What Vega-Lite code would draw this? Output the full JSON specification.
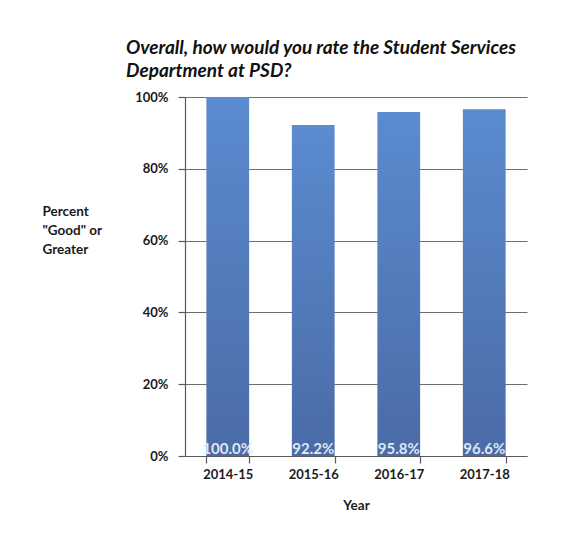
{
  "$schema": "https://vega.github.io/schema/vega-lite/v6.json",
  "width": 342,
  "height": 359,
  "autosize": {"type": "none"},
  "padding": {"left": 185, "top": 97, "right": 50, "bottom": 79},
  "background": "white",
  "title": {
    "text": ["Overall, how would you rate the Student Services", "Department at PSD?"],
    "anchor": "start",
    "frame": "group",
    "dx": -59,
    "offset": 10,
    "font": "Lato",
    "fontSize": 19,
    "fontStyle": "italic",
    "fontWeight": "bold",
    "lineHeight": 23,
    "color": "#111111"
  },
  "data": {
    "values": [
      {"year": "2014-15", "pct": 1.0, "label": "100.0%"},
      {"year": "2015-16", "pct": 0.922, "label": "92.2%"},
      {"year": "2016-17", "pct": 0.958, "label": "95.8%"},
      {"year": "2017-18", "pct": 0.966, "label": "96.6%"}
    ]
  },
  "encoding": {
    "x": {
      "field": "year",
      "type": "nominal",
      "sort": null,
      "scale": {"paddingInner": 0.5, "paddingOuter": 0.25},
      "axis": {
        "title": "Year",
        "labelAngle": 0,
        "tickBand": "extent",
        "tickSize": 7,
        "labelPadding": 5,
        "titleY": 53,
        "titleBaseline": "alphabetic"
      }
    }
  },
  "layer": [
    {
      "mark": {
        "type": "bar",
        "color": {
          "gradient": "linear",
          "x1": 0, "y1": 0, "x2": 0, "y2": 1,
          "stops": [
            {"offset": 0, "color": "#5b8bd0"},
            {"offset": 1, "color": "#4a6ba6"}
          ]
        }
      },
      "encoding": {
        "y": {
          "field": "pct",
          "type": "quantitative",
          "scale": {"domain": [0, 1]},
          "axis": {
            "values": [0, 0.2, 0.4, 0.6, 0.8, 1],
            "format": ".0%",
            "grid": true,
            "tickSize": 7,
            "labelPadding": 10,
            "title": ["Percent", "\"Good\" or", "Greater"],
            "titleAngle": 0,
            "titleAlign": "left",
            "titleBaseline": "top",
            "titleX": -143,
            "titleY": 107,
            "titleLineHeight": 19
          }
        }
      }
    },
    {
      "mark": {
        "type": "text",
        "baseline": "alphabetic",
        "dy": -2,
        "font": "Lato",
        "fontSize": 15,
        "fontWeight": "bold",
        "color": "#dfe7f4"
      },
      "encoding": {
        "y": {"datum": 0, "type": "quantitative"},
        "text": {"field": "label"}
      }
    }
  ],
  "config": {
    "view": {"stroke": null},
    "axis": {
      "labelFont": "Lato",
      "labelFontSize": 13,
      "labelFontWeight": "bold",
      "labelColor": "#1a1a1a",
      "titleFont": "Lato",
      "titleFontSize": 13.5,
      "titleFontWeight": "bold",
      "titleColor": "#1a1a1a",
      "domainColor": "#5a5a5a",
      "tickColor": "#5a5a5a",
      "gridColor": "#6e6e6e",
      "gridOpacity": 1,
      "domainWidth": 1.2,
      "tickWidth": 1.2,
      "gridWidth": 1.2
    }
  }
}
